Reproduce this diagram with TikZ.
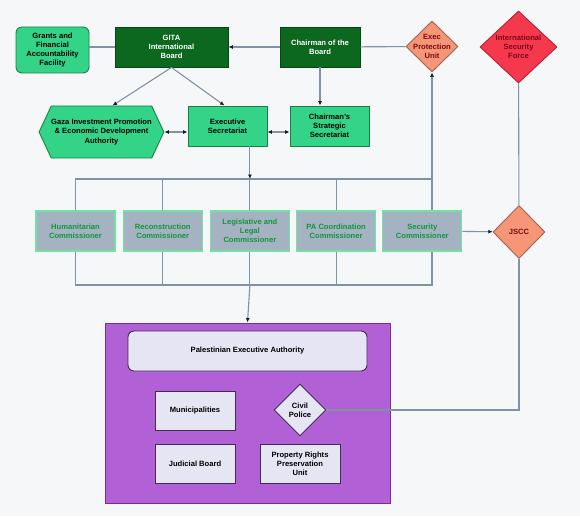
\documentclass[tikz,border=0pt]{standalone}
\usepackage{fontspec}
\setmainfont{Liberation Sans}
\usetikzlibrary{arrows.meta,positioning,shapes.geometric,shapes.symbols}
\definecolor{pagebg}{RGB}{246,247,248}
\definecolor{lgreen}{RGB}{52,212,136}
\definecolor{lgreenline}{RGB}{24,130,70}
\definecolor{dgreen}{RGB}{12,104,30}
\definecolor{dgreenline}{RGB}{6,70,18}
\definecolor{salmon}{RGB}{245,150,118}
\definecolor{salmonline}{RGB}{165,95,85}
\definecolor{isfred}{RGB}{245,56,76}
\definecolor{isfline}{RGB}{185,30,50}
\definecolor{darkred}{RGB}{120,10,25}
\definecolor{commfill}{RGB}{164,178,194}
\definecolor{commline}{RGB}{112,226,162}
\definecolor{commtext}{RGB}{18,150,62}
\definecolor{purplebox}{RGB}{178,96,214}
\definecolor{purpleline}{RGB}{112,50,150}
\definecolor{lavender}{RGB}{229,229,244}
\definecolor{lavline}{RGB}{62,44,84}
\definecolor{connector}{RGB}{128,146,164}
\definecolor{tipdark}{RGB}{20,28,40}

\begin{document}
\begin{tikzpicture}[x=1pt,y=-1pt,
  every node/.style={font=\fontsize{7.6}{9.2}\selectfont\bfseries,align=center,inner sep=1pt},
  gbox/.style={draw=lgreenline,line width=0.9pt,fill=lgreen,minimum width=79pt,minimum height=40pt},
  dbox/.style={draw=dgreenline,line width=0.9pt,fill=dgreen,text=white,minimum height=40pt},
  comm/.style={draw=commline,line width=1.2pt,fill=commfill,text=commtext,minimum width=79pt,minimum height=40pt},
  pbox/.style={draw=lavline,line width=0.9pt,fill=lavender,minimum width=80pt,minimum height=39pt},
  diam/.style={diamond,draw,line width=0.9pt,inner sep=0pt},
  hexa/.style={shape=signal,signal to=west and east,signal pointer angle=130,draw=lgreenline,line width=0.9pt,fill=lgreen,minimum width=117pt,minimum height=52pt,inner sep=0pt},
  line/.style={draw=connector,line width=1.1pt},
  arr/.style={line,-{Latex[length=4.5pt,width=4pt,color=tipdark]}},
  darr/.style={line,{Latex[length=4.5pt,width=4pt,color=tipdark]}-{Latex[length=4.5pt,width=4pt,color=tipdark]}}]
\fill[pagebg] (0,0) rectangle (580,516);
\useasboundingbox (0,0) rectangle (580,516);

% top row
\node[gbox,rounded corners=6pt,minimum width=73pt,minimum height=46pt] (grants) at (52.5,50) {Grants and\\Financial\\Accountability\\Facility};
\node[dbox,minimum width=113pt] (gita) at (171.5,47) {GITA\\International\\Board};
\node[dbox,minimum width=80pt] (chair) at (320,47) {Chairman of the\\Board};
\node[diam,draw=salmonline,fill=salmon,minimum width=52pt,minimum height=51pt,label={[text=darkred]center:Exec\\Protection\\Unit}] (epu) at (432,46.5) {};
\node[diam,draw=isfline,fill=isfred,minimum width=77pt,minimum height=72pt,label={[text=darkred]center:International\\Security\\Force}] (isf) at (518.5,47) {};

% second row
\node[hexa] (gaza) at (101.5,132) {Gaza Investment Promotion\\\& Economic Development\\Authority};
\node[gbox] (exsec) at (227.5,126) {Executive\\Secretariat};
\node[gbox] (css) at (329.5,126) {Chairman's\\Strategic\\Secretariat};

% commissioners
\node[comm] (hum) at (75.5,231) {Humanitarian\\Commissioner};
\node[comm,right=7pt of hum] (rec) {Reconstruction\\Commissioner};
\node[comm,right=7pt of rec] (leg) {Legislative and\\Legal\\Commissioner};
\node[comm,right=6pt of leg] (pac) {PA Coordination\\Commissioner};
\node[comm,right=6pt of pac] (sec) {Security\\Commissioner};
\node[diam,draw=salmonline,fill=salmon,minimum width=52pt,minimum height=53pt,label={[text=darkred]center:JSCC}] (jscc) at (519,232) {};

% palestinian side
\node[draw=purpleline,line width=1pt,fill=purplebox,minimum width=285pt,minimum height=180pt] (pa) at (247.5,413) {};
\node[pbox,rounded corners=6pt,minimum width=239pt,minimum height=40pt] (pea) at (247.5,351) {Palestinian Executive Authority};
\node[pbox] (muni) at (195,410.5) {Municipalities};
\node[pbox] (jb) at (195,463.5) {Judicial Board};
\node[diam,draw=lavline,fill=lavender,minimum width=52pt,minimum height=52pt,label={center:Civil\\Police}] (cp) at (300,410) {};
\node[pbox] (prpu) at (300,463.5) {Property Rights\\Preservation\\Unit};

\coordinate (bt) at (432,179);
\coordinate (bb) at (432,285);

\draw[line] (grants.east |- gita.west) -- (gita.west);
\draw[arr] (chair) -- (gita);
\draw[line] (chair) -- (epu);
\draw[arr] (gita.south) -- ([xshift=11pt]gaza.north);
\draw[arr] (gita.south) -- ([xshift=-3pt]exsec.north);
\draw[darr] (gaza.east) -- (gaza.east -| exsec.west);
\draw[darr] (exsec.east |- gaza.east) -- (css.west |- gaza.east);
\draw[arr] (chair.south) -- (chair.south |- css.north);

\draw[line] (hum.north) |- (bt) -- (bt |- sec.north);
\draw[line] (hum.south) |- (bb) -- (bb |- sec.south);
\foreach \c in {rec,leg,pac}
  \draw[line] (\c.north) -- (\c.north |- bt) (\c.south) -- (\c.south |- bb);
\draw[arr] (exsec.south -| leg.north) -- (leg.north |- bt);
\draw[arr] (bt) -- (epu.south);
\draw[arr] (bb -| leg.south) -- (pa.north);
\draw[arr] (sec) -- (jscc);
\draw[line] (isf) -- (jscc);
\draw[line] (jscc.south) |- (cp.east);
\end{tikzpicture}
\end{document}
